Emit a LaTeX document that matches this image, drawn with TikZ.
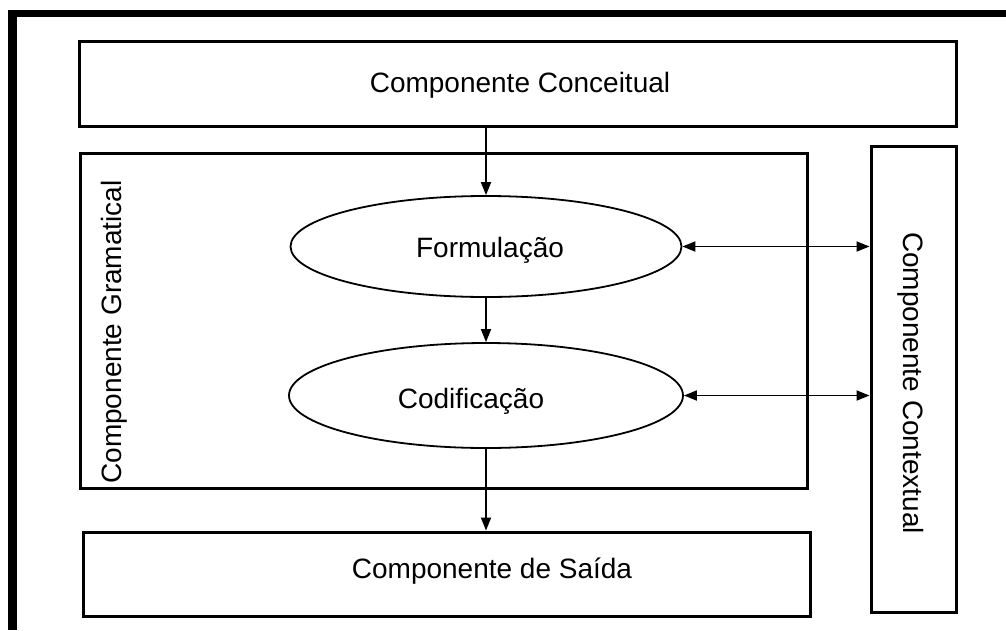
\documentclass[tikz,border=0pt]{standalone}
\usepackage{fontspec}
\setmainfont{Liberation Sans}
\usetikzlibrary{shapes.geometric,arrows.meta}
\begin{document}
\begin{tikzpicture}[x=1pt,y=-1pt,
  box/.style={draw=black,line width=3pt,rectangle,inner sep=0pt},
  oval/.style={draw=black,line width=1.8pt,ellipse,inner sep=0pt},
  lbl/.style={font=\fontsize{28}{34}\selectfont,inner sep=0pt,anchor=base,text=black},
  conn/.style={line width=1.8pt,-{Triangle[length=13pt,width=10pt]}},
  dconn/.style={line width=1.8pt,{Triangle[length=13pt,width=10pt]}-{Triangle[length=13pt,width=10pt]}}]
\useasboundingbox (0,0) rectangle (1006,630);
\fill[black] (8,10) rectangle (1006,17);
\fill[black] (8,10) rectangle (17,630);
% boxes
\node[box,minimum width=877pt,minimum height=85pt] (C) at (517.5,83.5) {};
\node[box,minimum width=727pt,minimum height=335pt] (G) at (443.5,320.5) {};
\node[box,minimum width=85pt,minimum height=466pt] (X) at (913.5,379) {};
\node[box,minimum width=727pt,minimum height=84pt] (O) at (446.5,574) {};
\node[oval,minimum width=391pt,minimum height=101pt] (F) at (486,246.5) {};
\node[oval,minimum width=394pt,minimum height=105pt] (K) at (486,395.5) {};
% labels
\node[lbl] (tC) at (520,92) {Componente Conceitual};
\node[lbl] (tO) at (492,578) {Componente de Saída};
\node[lbl] (tF) at (490,257) {Formulação};
\node[lbl] (tK) at (471,408) {Codificação};
\node[lbl,rotate=90] (tG) at (121,332) {Componente Gramatical};
\node[lbl,rotate=-90] (tX) at (903,383) {Componente Contextual};
% connectors
\draw[conn] (F.north |- C.south) -- (F.north);
\draw[conn] (F.south) -- (K.north);
\draw[conn] (K.south) -- (K.south |- O.north);
\draw[dconn] (F.east) -- (F.east -| X.west);
\draw[dconn] (K.east) -- (K.east -| X.west);
\end{tikzpicture}
\end{document}
